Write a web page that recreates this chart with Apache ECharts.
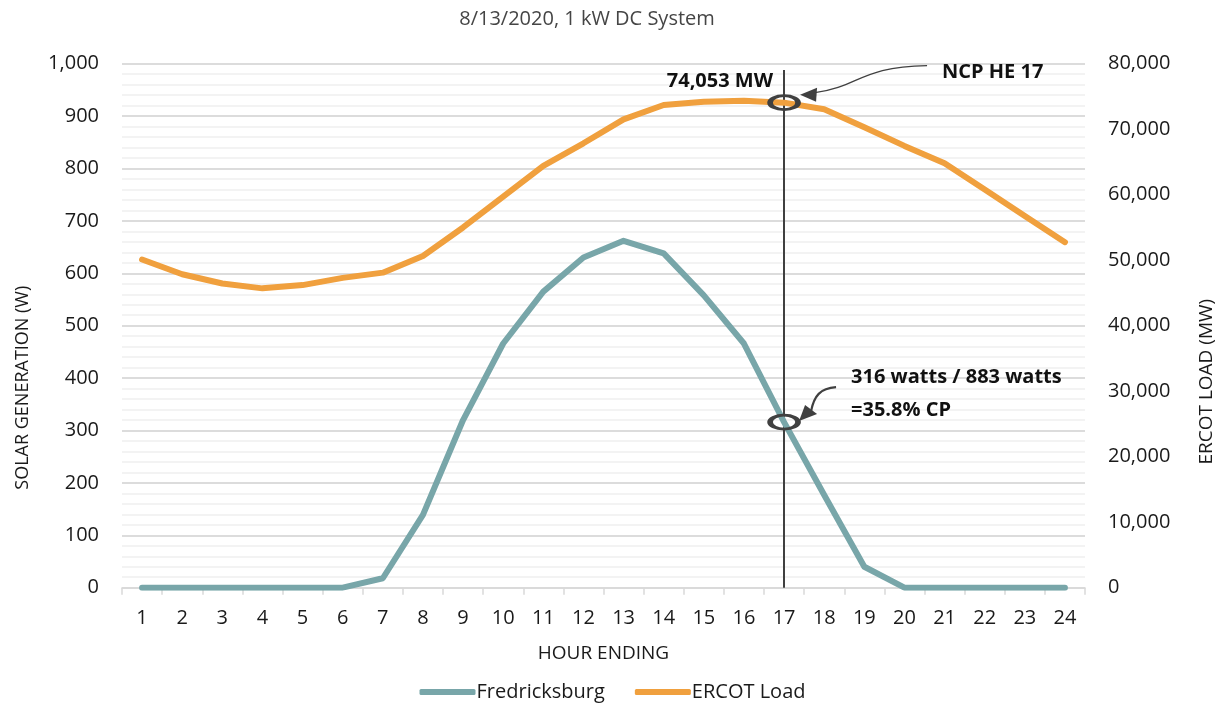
<!DOCTYPE html>
<html>
<head>
<meta charset="utf-8">
<script src="https://cdn.jsdelivr.net/npm/echarts@6/dist/echarts.min.js"></script>
<style>
  html, body { margin: 0; padding: 0; background: #fff; }
  #chart { width: 1225px; height: 709px; }
</style>
</head>
<body>
<div id="chart"></div>
<script>
// Hour-ending categories
const hours = ['1','2','3','4','5','6','7','8','9','10','11','12','13','14','15','16','17','18','19','20','21','22','23','24'];

// Solar output of a 1 kW DC system at Fredricksburg (W)
const fredricksburg = [0, 0, 0, 0, 0, 0, 18, 139, 320, 466, 565, 630, 662, 638, 558, 466, 316, 177, 40, 0, 0, 0, 0, 0];

// ERCOT system load (MW)
const ercotLoad = [50100, 47850, 46450, 45700, 46200, 47300, 48100, 50650, 55000, 59700, 64400, 67850, 71500, 73700, 74200, 74350, 74053, 73050, 70300, 67450, 64800, 60800, 56750, 52750];

// Peak hour and annotation texts
const peakHour = '17';
const peakIdx = hours.indexOf(peakHour);
const loadNote = ercotLoad[peakIdx].toLocaleString('en-US') + ' MW';
const peakNote = 'NCP HE ' + peakHour;
const cpLine1 = fredricksburg[peakIdx] + ' watts / 883 watts';
const cpLine2 = '=35.8% CP';

const FONT = '"Open Sans", "Noto Sans", sans-serif';
const TEAL = '#78a6a9';
const ORANGE = '#f0a03e';
const INK = '#404040';
const TXT = '#1a1a1a';

const chart = echarts.init(document.getElementById('chart'));

const fmt = v => Number(v).toLocaleString('en-US');

chart.setOption({
  animation: false,
  textStyle: { fontFamily: FONT },
  title: {
    text: '8/13/2020, 1 kW DC System',
    left: 582,
    textAlign: 'center',
    top: 4,
    textStyle: { fontFamily: FONT, fontSize: 20, fontWeight: 'normal', color: '#454545' }
  },
  legend: {
    bottom: 2,
    left: 'center',
    itemWidth: 56,
    itemHeight: 6,
    itemGap: 30,
    icon: 'roundRect',
    textStyle: { fontFamily: FONT, fontSize: 20, color: TXT, padding: [0, 0, 0, -4] },
    data: ['Fredricksburg', 'ERCOT Load']
  },
  grid: { left: 122, right: 140, top: 63.7, bottom: 121.3, containLabel: false },
  xAxis: {
    type: 'category',
    data: hours,
    boundaryGap: true,
    name: 'HOUR ENDING',
    nameLocation: 'middle',
    nameGap: 56,
    nameTextStyle: { fontFamily: FONT, fontSize: 19, color: TXT },
    axisLine: { lineStyle: { color: '#d9d9d9', width: 1.5 } },
    axisTick: { show: true, length: 7, lineStyle: { color: '#d9d9d9', width: 1.5 } },
    axisLabel: { fontFamily: FONT, fontSize: 20, color: TXT, margin: 21 }
  },
  yAxis: [
    {
      type: 'value',
      min: 0, max: 1000, interval: 100,
      name: 'SOLAR GENERATION (W)',
      nameLocation: 'middle',
      nameRotate: 90,
      nameGap: 90,
      nameTextStyle: { fontFamily: FONT, fontSize: 18, color: TXT, padding: [0, 124, 0, 0] },
      axisLine: { show: false },
      axisTick: { show: false },
      axisLabel: { fontFamily: FONT, fontSize: 20, color: TXT, margin: 23, formatter: fmt },
      splitLine: { show: true, lineStyle: { color: '#dcdcdc', width: 2 } },
      minorTick: { show: false, splitNumber: 5 },
      minorSplitLine: { show: true, lineStyle: { color: '#f0f0f0', width: 1.5 } }
    },
    {
      type: 'value',
      min: 0, max: 80000, interval: 10000,
      name: 'ERCOT LOAD (MW)',
      nameLocation: 'middle',
      nameRotate: 90,
      nameGap: 112,
      nameTextStyle: { fontFamily: FONT, fontSize: 19, color: TXT, padding: [0, 112, 0, 0] },
      axisLine: { show: false },
      axisTick: { show: false },
      axisLabel: { fontFamily: FONT, fontSize: 20, color: TXT, margin: 23, formatter: fmt },
      splitLine: { show: false }
    }
  ],
  series: [
    {
      name: 'Fredricksburg',
      type: 'line',
      yAxisIndex: 0,
      data: fredricksburg,
      symbol: 'none',
      color: TEAL,
      lineStyle: { color: TEAL, width: 6, cap: 'round', join: 'round' },
      z: 3,
      markLine: {
        silent: true,
        symbol: 'none',
        label: { show: false },
        lineStyle: { color: INK, width: 2, type: 'solid' },
        data: [[{ coord: [peakHour, 0] }, { coord: [peakHour, 988] }]],
        z: 2
      },
      markPoint: {
        silent: true,
        symbol: 'circle',
        symbolSize: [28, 14],
        itemStyle: { color: 'rgba(0,0,0,0)', borderColor: INK, borderWidth: 4 },
        label: { show: false },
        data: [{ coord: [peakHour, fredricksburg[peakIdx]] }]
      }
    },
    {
      name: 'ERCOT Load',
      type: 'line',
      yAxisIndex: 1,
      data: ercotLoad,
      symbol: 'none',
      color: ORANGE,
      lineStyle: { color: ORANGE, width: 6, cap: 'round', join: 'round' },
      z: 3,
      markPoint: {
        silent: true,
        symbol: 'circle',
        symbolSize: [28, 14],
        itemStyle: { color: 'rgba(0,0,0,0)', borderColor: INK, borderWidth: 4 },
        label: { show: false },
        data: [{ coord: [peakHour, ercotLoad[peakIdx]] }]
      }
    }
  ]
});

// Callouts anchored to the circled peak-hour points
const a = chart.convertToPixel({ xAxisIndex: 0, yAxisIndex: 1 }, [peakHour, ercotLoad[peakIdx]]);
const b = chart.convertToPixel({ xAxisIndex: 0, yAxisIndex: 0 }, [peakHour, fredricksburg[peakIdx]]);

const boldText = (x, y, text, align) => ({
  type: 'text', x, y, z: 20,
  style: { text, fontFamily: FONT, fontSize: 20, fontWeight: 'bold', fill: '#111', align: align || 'left', verticalAlign: 'middle' }
});

chart.setOption({
  graphic: [
    // load callout
    boldText(a[0] - 11, a[1] - 21, loadNote, 'right'),
    boldText(a[0] + 158, a[1] - 30, peakNote),
    {
      type: 'bezierCurve', z: 20,
      shape: { x1: a[0] + 31, y1: a[1] - 10, cpx1: a[0] + 76, cpy1: a[1] - 16, cpx2: a[0] + 76, cpy2: a[1] - 36, x2: a[0] + 143, y2: a[1] - 37 },
      style: { stroke: INK, lineWidth: 1.3, fill: null }
    },
    {
      type: 'polygon', z: 20,
      shape: { points: [[a[0] + 16, a[1] - 8], [a[0] + 33, a[1] - 15], [a[0] + 32, a[1] - 1]] },
      style: { fill: INK }
    },
    // capacity-factor callout
    boldText(b[0] + 67, b[1] - 45, cpLine1),
    boldText(b[0] + 67, b[1] - 12, cpLine2),
    {
      type: 'bezierCurve', z: 20,
      shape: { x1: b[0] + 27, y1: b[1] - 11, cpx1: b[0] + 30, cpy1: b[1] - 26, cpx2: b[0] + 36, cpy2: b[1] - 34, x2: b[0] + 52, y2: b[1] - 35 },
      style: { stroke: INK, lineWidth: 2.2, fill: null }
    },
    {
      type: 'polygon', z: 20,
      shape: { points: [[b[0] + 15, b[1] - 1], [b[0] + 21, b[1] - 17], [b[0] + 33, b[1] - 8]] },
      style: { fill: INK }
    }
  ]
});
</script>
</body>
</html>
